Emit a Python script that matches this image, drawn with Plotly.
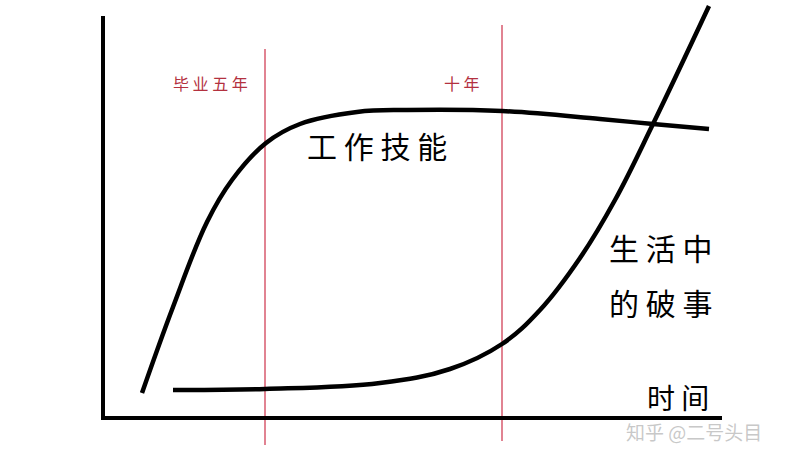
import plotly.graph_objects as go

# Axes (hand-drawn frame), in picture units
axis_x = [103, 103, 722]
axis_y = [16, 418, 418]

# Vertical markers
marker_labels = ["毕 业 五 年", "十 年"]
marker_x = [265, 502]
marker_top = [49, 25]
marker_bottom = [445, 441]

# Curve: 工作技能
skill_x = [142, 173, 207, 232, 266, 300, 357, 407, 502, 600, 653, 709]
skill_y = [393, 307, 222, 180, 143, 124, 112, 110, 111, 119, 124, 129]

# Curve: 生活中的破事
life_x = [173, 265, 380, 450, 502, 540, 580, 615, 653, 709]
life_y = [390, 389, 383, 369, 344, 310, 258, 200, 124, 6]

fig = go.Figure()

for mx, t, b in zip(marker_x, marker_top, marker_bottom):
    fig.add_trace(go.Scatter(x=[mx, mx], y=[t, b], mode="lines",
                             line=dict(color="rgba(215,90,110,0.75)", width=2),
                             hoverinfo="skip", showlegend=False))

fig.add_trace(go.Scatter(x=axis_x, y=axis_y, mode="lines",
                         line=dict(color="black", width=4),
                         hoverinfo="skip", showlegend=False))

fig.add_trace(go.Scatter(x=skill_x, y=skill_y, mode="lines",
                         line=dict(color="black", width=4.5, shape="spline", smoothing=1.1),
                         name="工作技能", showlegend=False))

fig.add_trace(go.Scatter(x=life_x, y=life_y, mode="lines",
                         line=dict(color="black", width=4.5, shape="spline", smoothing=1.1),
                         name="生活中的破事", showlegend=False))

cjk = "Noto Sans CJK SC"
red = "#b3313f"

annotations = [
    dict(x=210, y=83, text=marker_labels[0], font=dict(size=16, color=red, family=cjk)),
    dict(x=462, y=83, text=marker_labels[1], font=dict(size=16, color=red, family=cjk)),
    dict(x=377, y=145, text="工 作 技 能", font=dict(size=30, color="black", family=cjk)),
    dict(x=660, y=247, text="生 活 中", font=dict(size=30, color="black", family=cjk)),
    dict(x=660, y=302, text="的 破 事", font=dict(size=30, color="black", family=cjk)),
    dict(x=678, y=397, text="时 间", font=dict(size=28, color="black", family=cjk)),
    dict(x=694, y=431, text="知乎 @二号头目", font=dict(size=19, color="rgba(190,190,190,0.85)", family=cjk)),
]
for a in annotations:
    a.update(xref="x", yref="y", showarrow=False, xanchor="center", yanchor="middle")

fig.update_layout(
    width=800, height=456,
    margin=dict(l=0, r=0, t=0, b=0),
    paper_bgcolor="white", plot_bgcolor="white",
    xaxis=dict(range=[0, 800], visible=False, fixedrange=True),
    yaxis=dict(range=[456, 0], visible=False, fixedrange=True),
    annotations=annotations,
)

fig.write_html("out.html", config={"displayModeBar": False},
               post_script="document.body.style.margin='0';")
